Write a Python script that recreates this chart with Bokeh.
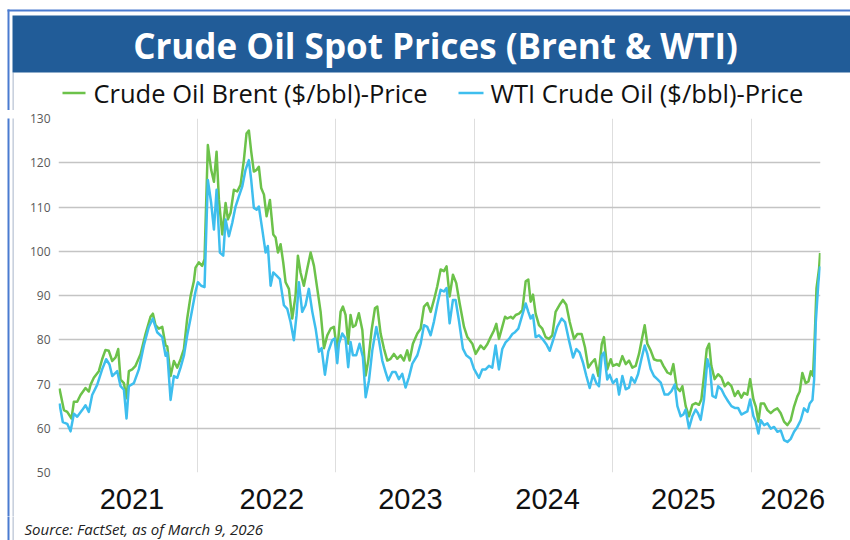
from bokeh.plotting import figure
from bokeh.models import FixedTicker, Range1d
from bokeh.layouts import column, row
from bokeh.core.properties import value
from bokeh.embed import file_html
from bokeh.resources import INLINE

# ---------------- data ----------------
title_text = ["Crude Oil Spot Prices (Brent & WTI)"]
legend_labels = ["Crude Oil Brent ($/bbl)-Price", "WTI Crude Oil ($/bbl)-Price"]
source_note = ["Source: FactSet, as of March 9, 2026"]

year_labels = ["2021", "2022", "2023", "2024", "2025", "2026"]
year_label_pos = [2021.53, 2022.54, 2023.54, 2024.53, 2025.51, 2026.30]
year_bounds = [2021.0, 2022.0, 2023.0, 2024.0, 2025.0, 2026.0, 2026.5]
price_ticks = [50, 60, 70, 80, 90, 100, 110, 120, 130]

brent_t = [
    2021.007, 2021.039, 2021.063, 2021.094, 2021.111, 2021.135, 2021.159, 2021.195, 2021.219, 2021.231,
    2021.255, 2021.291, 2021.315, 2021.339, 2021.363, 2021.388, 2021.412, 2021.431, 2021.448, 2021.472,
    2021.491, 2021.508, 2021.532, 2021.556, 2021.592, 2021.628, 2021.664, 2021.681, 2021.700, 2021.724,
    2021.749, 2021.773, 2021.785, 2021.809, 2021.833, 2021.857, 2021.881, 2021.905, 2021.929, 2021.953,
    2021.977, 2021.989,
    2022.013, 2022.037, 2022.054, 2022.078, 2022.102, 2022.122, 2022.141, 2022.158, 2022.182, 2022.206,
    2022.223, 2022.242, 2022.266, 2022.290, 2022.314, 2022.338, 2022.357, 2022.374, 2022.391, 2022.410,
    2022.430, 2022.446, 2022.463, 2022.483, 2022.502, 2022.526, 2022.550, 2022.567, 2022.584, 2022.603,
    2022.622, 2022.639, 2022.663, 2022.687, 2022.711, 2022.728, 2022.747, 2022.771, 2022.795, 2022.820,
    2022.844, 2022.868, 2022.892, 2022.916, 2022.940, 2022.964, 2022.988, 2023.012,
    2023.036, 2023.053, 2023.072, 2023.091, 2023.108, 2023.125, 2023.144, 2023.168, 2023.193, 2023.217,
    2023.236, 2023.260, 2023.284, 2023.301, 2023.325, 2023.349, 2023.373, 2023.397, 2023.421, 2023.445,
    2023.469, 2023.493, 2023.517, 2023.534, 2023.558, 2023.590, 2023.614, 2023.638, 2023.662, 2023.686,
    2023.710, 2023.734, 2023.758, 2023.782, 2023.801, 2023.823, 2023.847, 2023.871, 2023.895, 2023.927,
    2023.951, 2023.987, 2024.011,
    2024.047, 2024.071, 2024.095, 2024.119, 2024.143, 2024.160, 2024.179, 2024.203, 2024.223, 2024.239,
    2024.264, 2024.280, 2024.300, 2024.324, 2024.348, 2024.372, 2024.391, 2024.408, 2024.425, 2024.444,
    2024.468, 2024.492, 2024.516, 2024.540, 2024.564, 2024.588, 2024.617, 2024.641, 2024.665, 2024.690,
    2024.721, 2024.745, 2024.776, 2024.800, 2024.824, 2024.848, 2024.872, 2024.897, 2024.921, 2024.937,
    2024.961, 2024.986, 2025.002,
    2025.029, 2025.046, 2025.070, 2025.094, 2025.118, 2025.142, 2025.166, 2025.190, 2025.214, 2025.231,
    2025.250, 2025.274, 2025.298, 2025.322, 2025.347, 2025.366, 2025.395, 2025.419, 2025.438, 2025.462,
    2025.486, 2025.503, 2025.527, 2025.551, 2025.575, 2025.599, 2025.623, 2025.640, 2025.659, 2025.679,
    2025.696, 2025.712, 2025.736, 2025.761, 2025.785, 2025.809, 2025.833, 2025.857, 2025.881, 2025.905,
    2025.929, 2025.948, 2025.972, 2025.992, 2026.016,
    2026.033, 2026.052, 2026.069, 2026.093, 2026.117, 2026.141, 2026.165, 2026.189, 2026.213, 2026.237,
    2026.261, 2026.285, 2026.309, 2026.333, 2026.350, 2026.369, 2026.393, 2026.413, 2026.430, 2026.446,
    2026.458, 2026.471, 2026.490, 2026.497,
]
brent_price = [
    69.0, 64.1, 63.7, 62.2, 66.0, 66.0, 67.5, 69.1, 68.3, 69.8,
    71.4, 72.9, 75.6, 77.7, 77.5, 75.2, 76.0, 77.9, 71.0, 70.2,
    66.8, 72.9, 73.3, 74.1, 76.7, 81.3, 85.2, 85.9, 83.3, 82.5,
    82.9, 78.7, 78.5, 71.8, 75.2, 73.7, 75.6, 77.9, 84.8, 89.8,
    93.2, 96.3,
    97.5, 96.7, 98.2, 124.0, 118.4, 115.7, 122.5, 111.6, 103.8, 110.9,
    107.2, 108.7, 113.9, 113.5, 115.0, 120.6, 126.6, 127.3, 122.5, 118.0,
    118.4, 119.1, 114.3, 112.8, 107.9, 111.6, 103.8, 103.1, 99.7, 101.6,
    97.5, 93.0, 91.5, 84.8, 90.0, 99.0, 95.2, 92.2, 96.0, 99.7,
    96.7, 91.5, 86.3, 78.1, 81.0, 82.5, 82.9, 77.3,
    86.3, 87.5, 85.6, 79.1, 85.6, 82.9, 83.3, 86.0, 82.2, 71.9,
    75.3, 82.2, 87.1, 87.5, 81.4, 78.0, 75.3, 75.7, 76.8, 75.7,
    76.5, 75.3, 77.6, 75.3, 79.1, 81.4, 82.5, 87.5, 88.3, 86.3,
    89.0, 92.1, 95.9, 95.5, 96.6, 89.8, 94.7, 92.8, 88.3, 82.9,
    80.6, 79.1, 76.8,
    78.7, 77.9, 79.0, 80.6, 82.1, 83.6, 80.2, 82.9, 85.2, 84.8,
    85.2, 84.8, 85.6, 85.9, 86.7, 93.2, 93.6, 88.6, 90.2, 85.9,
    83.3, 82.5, 80.6, 80.2, 81.0, 86.3, 87.9, 89.0, 87.9, 84.0,
    80.2, 81.3, 81.3, 78.3, 73.7, 74.8, 75.6, 71.8, 79.0, 80.6,
    73.3, 75.6, 74.1,
    74.5, 74.1, 76.3, 74.5, 75.3, 73.7, 74.1, 76.8, 80.6, 83.3,
    79.1, 77.6, 75.6, 75.3, 75.3, 74.1, 72.6, 72.2, 74.5, 69.2,
    68.4, 69.5, 65.0, 62.7, 65.3, 65.7, 65.3, 66.5, 71.8, 77.9,
    79.1, 74.1, 71.1, 72.2, 71.5, 69.5, 70.3, 69.5, 67.3, 68.4,
    66.9, 68.0, 67.6, 71.1, 66.5,
    64.9, 61.5, 65.6, 65.6, 64.1, 63.4, 64.1, 64.5, 63.4, 61.5,
    60.7, 61.8, 64.9, 67.2, 68.3, 72.5, 70.2, 70.6, 72.9, 71.8,
    80.2, 91.6, 96.2, 99.6,
]

wti_t = [
    2021.007, 2021.031, 2021.063, 2021.087, 2021.111, 2021.135, 2021.171, 2021.195, 2021.219, 2021.243,
    2021.279, 2021.315, 2021.344, 2021.368, 2021.388, 2021.424, 2021.448, 2021.472, 2021.491, 2021.508,
    2021.544, 2021.580, 2021.616, 2021.652, 2021.681, 2021.712, 2021.749, 2021.773, 2021.785, 2021.809,
    2021.833, 2021.857, 2021.881, 2021.905, 2021.929, 2021.953, 2021.989,
    2022.006, 2022.030, 2022.054, 2022.078, 2022.102, 2022.122, 2022.141, 2022.165, 2022.189, 2022.206,
    2022.230, 2022.254, 2022.278, 2022.302, 2022.326, 2022.350, 2022.374, 2022.391, 2022.410, 2022.430,
    2022.446, 2022.471, 2022.495, 2022.511, 2022.531, 2022.550, 2022.574, 2022.598, 2022.627, 2022.651,
    2022.675, 2022.699, 2022.718, 2022.735, 2022.759, 2022.783, 2022.807, 2022.832, 2022.856, 2022.880,
    2022.899, 2022.923, 2022.947, 2022.976, 2022.993, 2023.012,
    2023.024, 2023.048, 2023.072, 2023.091, 2023.108, 2023.125, 2023.149, 2023.173, 2023.197, 2023.217,
    2023.241, 2023.265, 2023.294, 2023.313, 2023.337, 2023.361, 2023.380, 2023.409, 2023.433, 2023.457,
    2023.481, 2023.505, 2023.529, 2023.554, 2023.590, 2023.614, 2023.638, 2023.662, 2023.686, 2023.710,
    2023.734, 2023.758, 2023.782, 2023.801, 2023.823, 2023.847, 2023.866, 2023.890, 2023.919, 2023.943,
    2023.975, 2023.999,
    2024.035, 2024.059, 2024.083, 2024.107, 2024.131, 2024.155, 2024.179, 2024.203, 2024.227, 2024.252,
    2024.276, 2024.295, 2024.319, 2024.348, 2024.372, 2024.391, 2024.408, 2024.425, 2024.444, 2024.468,
    2024.492, 2024.521, 2024.545, 2024.569, 2024.600, 2024.632, 2024.656, 2024.685, 2024.714, 2024.738,
    2024.762, 2024.786, 2024.810, 2024.834, 2024.858, 2024.882, 2024.901, 2024.921, 2024.937, 2024.961,
    2024.978, 2025.002,
    2025.029, 2025.046, 2025.070, 2025.094, 2025.118, 2025.135, 2025.159, 2025.183, 2025.207, 2025.231,
    2025.250, 2025.274, 2025.298, 2025.322, 2025.347, 2025.375, 2025.400, 2025.424, 2025.448, 2025.467,
    2025.491, 2025.510, 2025.527, 2025.551, 2025.575, 2025.599, 2025.616, 2025.635, 2025.659, 2025.684,
    2025.703, 2025.720, 2025.744, 2025.761, 2025.785, 2025.809, 2025.833, 2025.857, 2025.881, 2025.905,
    2025.929, 2025.948, 2025.972, 2025.992, 2026.016,
    2026.033, 2026.052, 2026.069, 2026.093, 2026.117, 2026.141, 2026.165, 2026.189, 2026.213, 2026.237,
    2026.261, 2026.285, 2026.309, 2026.333, 2026.357, 2026.381, 2026.406, 2026.422, 2026.442, 2026.454,
    2026.466, 2026.485, 2026.497,
]
wti_price = [
    65.6, 61.4, 61.0, 59.3, 63.3, 62.6, 64.1, 65.2, 63.7, 67.5,
    69.8, 73.3, 75.6, 74.4, 71.8, 72.9, 69.5, 68.7, 62.2, 69.5,
    70.2, 73.3, 78.7, 82.9, 84.8, 81.7, 80.6, 76.4, 77.1, 66.4,
    71.8, 71.4, 73.7, 76.4, 81.0, 84.8, 90.9,
    93.0, 92.2, 91.9, 116.1, 110.9, 104.9, 113.9, 99.7, 99.0, 107.2,
    103.4, 106.4, 110.1, 112.4, 114.6, 118.4, 120.6, 116.1, 109.8, 109.4,
    110.1, 104.9, 99.7, 101.2, 92.2, 95.2, 94.5, 93.7, 87.8, 87.0,
    84.0, 79.9, 85.5, 93.0, 86.3, 87.8, 91.5, 86.3, 82.5, 77.3,
    78.1, 72.1, 77.3, 79.9, 80.3, 74.7,
    79.1, 81.4, 80.3, 73.8, 79.5, 76.5, 76.5, 79.1, 76.1, 67.0,
    70.8, 77.6, 82.9, 79.9, 75.3, 72.7, 70.8, 72.7, 72.7, 71.1,
    72.3, 69.2, 71.5, 74.6, 76.5, 79.1, 83.3, 82.9, 81.0, 84.1,
    87.9, 91.3, 90.9, 91.7, 83.7, 89.0, 89.0, 84.4, 78.0, 76.5,
    75.7, 73.4,
    71.4, 73.3, 73.3, 74.1, 73.7, 78.7, 73.3, 77.9, 79.4, 80.2,
    81.3, 81.7, 82.5, 85.6, 88.2, 86.3, 84.8, 85.6, 80.6, 81.0,
    80.2, 79.0, 77.5, 79.8, 82.9, 84.8, 84.0, 79.8, 76.0, 77.9,
    77.1, 74.8, 71.8, 69.1, 72.1, 70.2, 69.5, 76.4, 77.1, 71.0,
    72.1, 70.2,
    71.1, 67.6, 71.8, 68.8, 69.2, 71.5, 70.3, 72.2, 75.6, 78.7,
    76.8, 73.4, 71.8, 71.1, 70.3, 67.6, 67.6, 68.4, 69.9, 65.0,
    62.7, 63.1, 64.2, 60.0, 62.7, 64.2, 63.4, 61.9, 66.5, 75.6,
    73.4, 67.3, 66.9, 69.5, 68.8, 67.3, 66.1, 65.0, 64.6, 64.6,
    63.1, 63.4, 63.8, 66.5, 62.7,
    61.5, 58.8, 61.8, 60.7, 61.1, 59.9, 60.3, 59.2, 59.5, 57.3,
    56.9, 57.6, 59.2, 60.3, 61.8, 64.5, 63.7, 65.6, 66.4, 71.0,
    84.0, 93.1, 96.6,
]

# ---------------- styling ----------------
GREEN = "#6CC24A"
BLUE = "#3EBEEE"
BAR = "#215C98"
FRAME_BLUE = "#4A7BD0"
INNER = "#BCC6D6"

W = 850
HEADER_H = 110
FRAME_TOP = 118 - HEADER_H
FRAME_H = 354
MAIN_BOTTOM = 44
MAIN_H = FRAME_TOP + FRAME_H + MAIN_BOTTOM
FOOTER_H = 540 - HEADER_H - MAIN_H
STRIP_W = 14
DESCENT = 0.293  # Open Sans descent, em units (text box bottom sits this far below the baseline)


def blank(width, height):
    f = figure(
        frame_width=width, frame_height=height,
        x_range=Range1d(0, width), y_range=Range1d(height, 0),
        x_axis_type=None, y_axis_type=None, title_location=None,
        output_backend="svg", toolbar_location=None,
        min_border=0, min_border_left=0, min_border_right=0,
        min_border_top=0, min_border_bottom=0,
    )
    f.outline_line_color = None
    f.grid.visible = False
    f.background_fill_color = "white"
    f.border_fill_color = "white"
    return f


# ---- header: frame lines, title bar, legend ----
TITLE_PX = 35
LEGEND_PX = 25.5
hdr = blank(W, HEADER_H)
hdr.quad(left=[7, 7, 12, 12], right=[W + 2, 9, 13.3, W + 2],
         top=[9, 9, 72, 15], bottom=[11, HEADER_H + 1, HEADER_H + 1, 72],
         fill_color=[FRAME_BLUE, FRAME_BLUE, INNER, BAR], line_color=None)
hdr.text(x=[435], y=[55.5 - DESCENT * TITLE_PX], text=title_text, text_align="center",
         text_baseline="alphabetic", text_font=value("Open Sans"), text_font_style="bold",
         text_font_size=f"{TITLE_PX}px", text_color="white")
hdr.segment(x0=[62, 458], y0=[92.5, 92.5], x1=[85, 483], y1=[92.5, 92.5],
            line_color=[GREEN, BLUE], line_width=2.5)
hdr.text(x=[93, 490], y=[100 - DESCENT * LEGEND_PX] * 2, text=legend_labels, text_align="left",
         text_baseline="alphabetic", text_font=value("Open Sans"),
         text_font_size=f"{LEGEND_PX}px", text_color="#111111")

# ---- left strip: frame lines beside the chart ----
strip = blank(STRIP_W, MAIN_H)
strip.quad(left=[7, 12], right=[9, 13.3], top=[-1, -1], bottom=[MAIN_H + 1, MAIN_H + 1],
           fill_color=[FRAME_BLUE, INNER], line_color=None)

# ---- main chart ----
p = figure(
    width=W - STRIP_W, height=MAIN_H,
    x_range=Range1d(2021.0, 2026.5), y_range=Range1d(50, 130),
    output_backend="svg", toolbar_location=None, title_location=None,
    min_border_left=58 - STRIP_W, min_border_right=W - STRIP_W - (58 - STRIP_W) - 762,
    min_border_top=FRAME_TOP, min_border_bottom=MAIN_BOTTOM,
)
p.outline_line_color = None
p.background_fill_color = "white"
p.border_fill_color = "white"

p.xaxis.ticker = FixedTicker(ticks=year_label_pos)
p.xaxis.major_label_overrides = dict(zip(year_label_pos, year_labels))
p.xaxis.major_label_text_font = "Liberation Sans"
p.xaxis.major_label_text_font_size = "29px"
p.xaxis.major_label_text_color = "#111111"
p.xaxis.axis_line_color = None
p.xaxis.major_tick_line_color = None
p.xaxis.minor_tick_line_color = None
p.xaxis.major_tick_out = 0
p.xaxis.major_label_standoff = 16

p.yaxis.ticker = FixedTicker(ticks=price_ticks)
p.yaxis.major_label_text_font = "Open Sans"
p.yaxis.major_label_text_font_size = "12px"
p.yaxis.major_label_text_color = "#595959"
p.yaxis.axis_line_color = None
p.yaxis.major_tick_line_color = None
p.yaxis.minor_tick_line_color = None
p.yaxis.major_tick_out = 0
p.yaxis.major_label_standoff = 8

p.xgrid.ticker = FixedTicker(ticks=year_bounds)
p.xgrid.grid_line_color = "#dedede"
p.xgrid.grid_line_width = 1
p.ygrid.grid_line_color = "#c4c4c4"
p.ygrid.grid_line_width = 1.6

p.line(brent_t, brent_price, line_color=GREEN, line_width=2.5, line_join="round")
p.line(wti_t, wti_price, line_color=BLUE, line_width=2.5, line_join="round")

# ---- footer: source note ----
SOURCE_PX = 15
ftr = blank(W, FOOTER_H)
ftr.quad(left=[7, 12], right=[9, 13.3], top=[-1, -1], bottom=[FOOTER_H + 1, FOOTER_H + 1],
         fill_color=[FRAME_BLUE, INNER], line_color=None)
ftr.text(x=[24], y=[532.5 - (540 - FOOTER_H) - DESCENT * SOURCE_PX], text=source_note,
         text_align="left", text_baseline="alphabetic", text_font=value("Open Sans"),
         text_font_style="italic", text_font_size=f"{SOURCE_PX}px", text_color="#222222")

layout = column(hdr, row(strip, p, spacing=0), ftr, spacing=0)
open("out.html", "w").write(file_html(layout, INLINE))
